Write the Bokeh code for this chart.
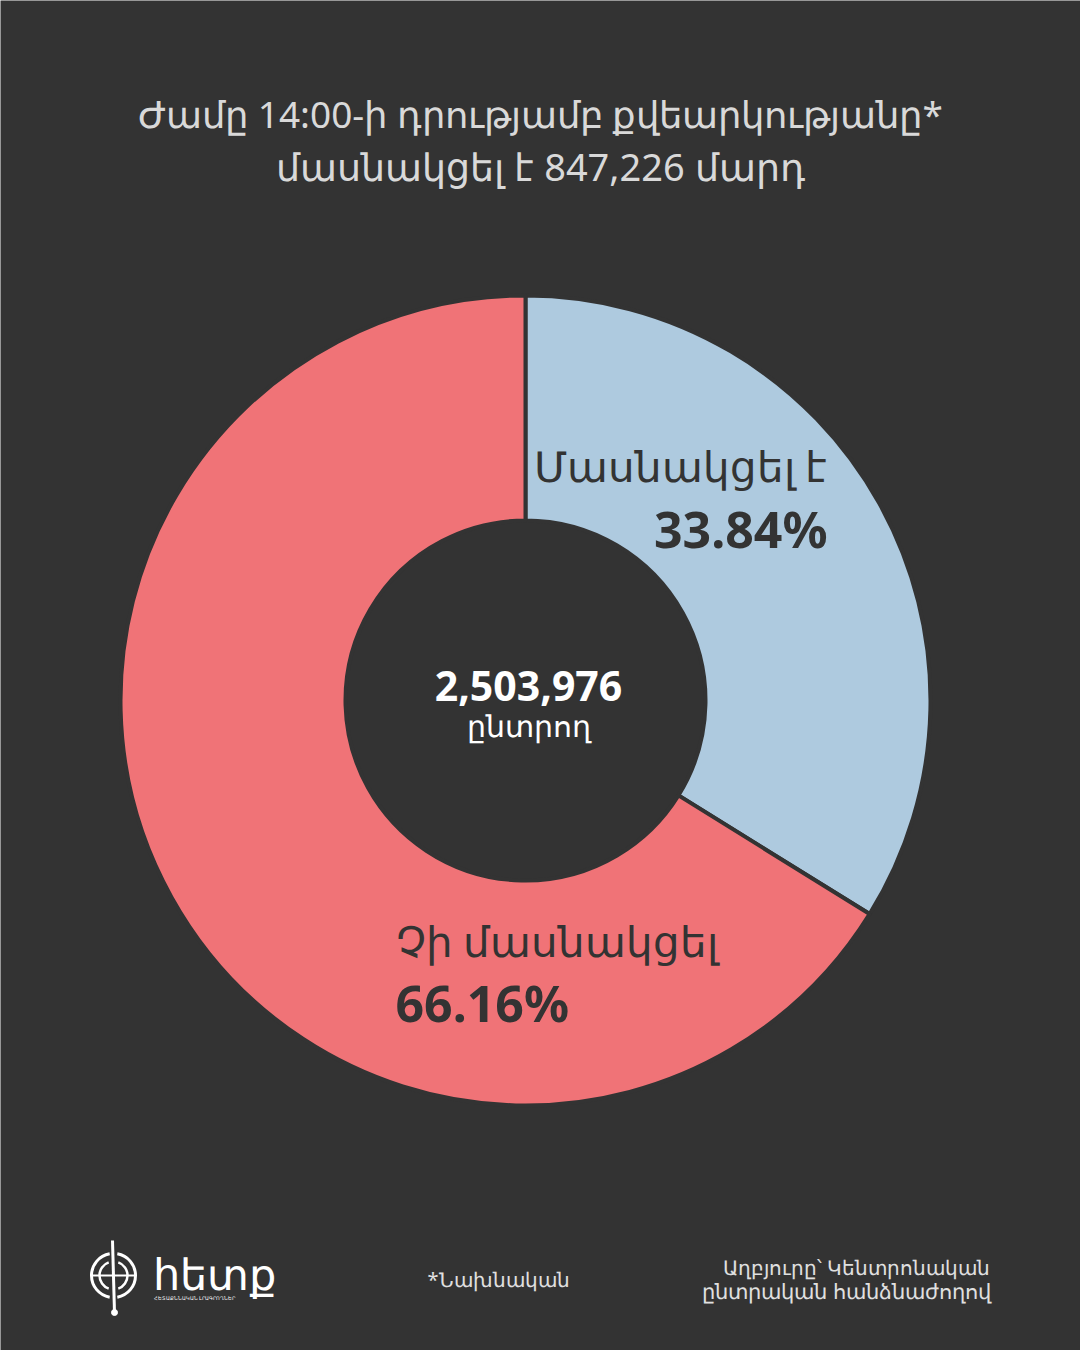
from bokeh.plotting import figure
from bokeh.models import Range1d
from bokeh.embed import file_html
from bokeh.resources import INLINE
from bokeh.core.properties import value
import math

W, H = 1080, 1350

# ---- data ----
categories = ["Մասնակցել է", "Չի մասնակցել"]
shares = [33.84, 66.16]
colors = ["#aecadf", "#f07377"]
total_voters = "2,503,976"
voters_word = "ընտրող"
title_lines = ["Ժամը 14:00-ի դրությամբ քվեարկությանը*", "մասնակցել է 847,226 մարդ"]
note = "*Նախնական"
source_lines = ["Աղբյուրը՝ Կենտրոնական", "ընտրական հանձնաժողով"]

BG = "#333333"
FONT = "Noto Sans"

p = figure(width=W, height=H, x_range=Range1d(0, W), y_range=Range1d(0, H),
           output_backend="svg", toolbar_location=None, min_border=0)
p.axis.visible = False
p.grid.visible = False
p.outline_line_color = None
p.background_fill_color = BG
p.border_fill_color = BG

def Y(y):
    return H - y

cx, cy = 525, Y(700)
r_in, r_out = 180, 405

# wedges: start at top (90 deg), go clockwise
start = math.pi / 2
for share, col in zip(shares, colors):
    sweep = share / 100 * 2 * math.pi
    end = start - sweep
    p.annular_wedge(x=cx, y=cy, inner_radius=r_in, outer_radius=r_out,
                    start_angle=end, end_angle=start, direction="anticlock",
                    fill_color=col, line_color=BG, line_width=4)
    start = end

def txt(x, y, s, size, color, align="left", bold=False, font=FONT):
    # y is the intended baseline in pixels from the top
    p.text(x=[x], y=[Y(y - 0.4 * size)], text=[s], text_font=value(font),
           text_font_size=f"{size}px", text_color=color, text_align=align,
           text_baseline="alphabetic",
           text_font_style="bold" if bold else "normal")

# title
txt(540, 128, title_lines[0], 37, "#d9d9d9", "center")
txt(540, 181, title_lines[1], 38, "#d9d9d9", "center")

# slice labels
txt(827, 482, categories[0], 42, "#333333", "right")
txt(827, 548, f"{shares[0]:.2f}%", 50, "#333333", "right", bold=True)
txt(395, 957, categories[1], 42, "#333333", "left")
txt(395, 1022, f"{shares[1]:.2f}%", 50, "#333333", "left", bold=True)

# center
txt(528, 702, total_voters, 41, "#ffffff", "center", bold=True)
txt(528, 737, voters_word, 30, "#ffffff", "center")

# footer
txt(427, 1287, note, 20, "#e0e0e0", "left")
txt(990, 1275, source_lines[0], 20, "#e0e0e0", "right")
txt(990, 1299, source_lines[1], 20.5, "#e0e0e0", "right")

# logo
lx, ly = 113, Y(1275)
p.arc(x=lx, y=ly, radius=22, start_angle=math.radians(100), end_angle=math.radians(260),
      line_color="white", line_width=3)
p.arc(x=lx, y=ly, radius=22, start_angle=math.radians(-80), end_angle=math.radians(80),
      line_color="white", line_width=3)
p.arc(x=lx, y=ly, radius=14, start_angle=math.radians(110), end_angle=math.radians(250),
      line_color="white", line_width=2.5)
p.arc(x=lx, y=ly, radius=14, start_angle=math.radians(-70), end_angle=math.radians(70),
      line_color="white", line_width=2.5)
p.segment(x0=[lx - 1], y0=[Y(1240)], x1=[lx + 1], y1=[Y(1312)], line_color="white", line_width=3)
p.segment(x0=[lx - 22], y0=[ly], x1=[lx + 22], y1=[ly], line_color="white", line_width=2)
p.scatter(x=[lx + 1], y=[Y(1312)], size=6, color="white")
txt(152, 1290, "հետք", 43, "#ffffff", "left")
txt(153, 1299, "ՀԵՏԱՔՆՆԱԿԱՆ ԼՐԱԳՐՈՂՆԵՐ", 5, "#ffffff", "left")

open("out.html", "w").write(file_html(p, INLINE))
